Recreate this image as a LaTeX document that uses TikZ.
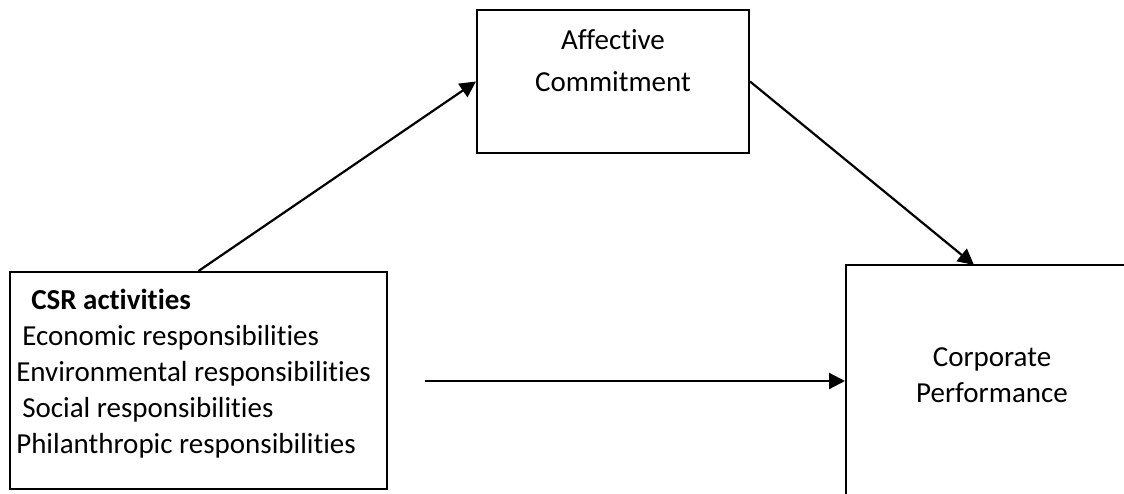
\documentclass[tikz,border=0pt]{standalone}
\usepackage{fontspec}
\setmainfont[Ligatures=NoCommon,RawFeature=-liga]{Carlito}
\usetikzlibrary{arrows.meta,calc}
\tikzset{
  box/.style={draw=black, line width=2pt, rectangle, inner sep=0pt},
  lbl/.style={font=\fontsize{29}{36}\selectfont, inner sep=0pt, align=center},
  arr/.style={line width=2.2pt, -{Triangle[length=16pt,width=16pt]}}
}
\begin{document}
\begin{tikzpicture}[x=1pt,y=1pt]
\useasboundingbox (0,0) rectangle (1124,493);
\clip (0,0) rectangle (1124,493);
\node[box, minimum width=377pt, minimum height=217pt] (csr) at (198.5,112.5) {};
\node[box, minimum width=272pt, minimum height=143pt] (aff) at (613,411.5) {};
\node[box, minimum width=292pt, minimum height=260pt] (corp) at (992,98) {};
\node[lbl, align=left, anchor=center] (csrtxt) at (193.5,119.5) {\hspace*{15pt}\textbf{CSR activities}\\
\hspace*{6pt}Economic responsibilities\\
Environmental responsibilities\\
\hspace*{6pt}Social responsibilities\\
Philanthropic responsibilities};
\node[lbl, font=\fontsize{29}{42}\selectfont] (afftxt) at (613,432) {Affective\\Commitment};
\node[lbl] (corptxt) at (992,118) {Corporate\\Performance};
\coordinate (cpin) at (974,228);
\coordinate (hstart) at (425,112);
\draw[arr] (csr.north) -- (aff.west);
\draw[arr] (aff.east) -- (cpin);
\draw[arr] (hstart) -- (corp.west |- hstart);
\end{tikzpicture}
\end{document}
